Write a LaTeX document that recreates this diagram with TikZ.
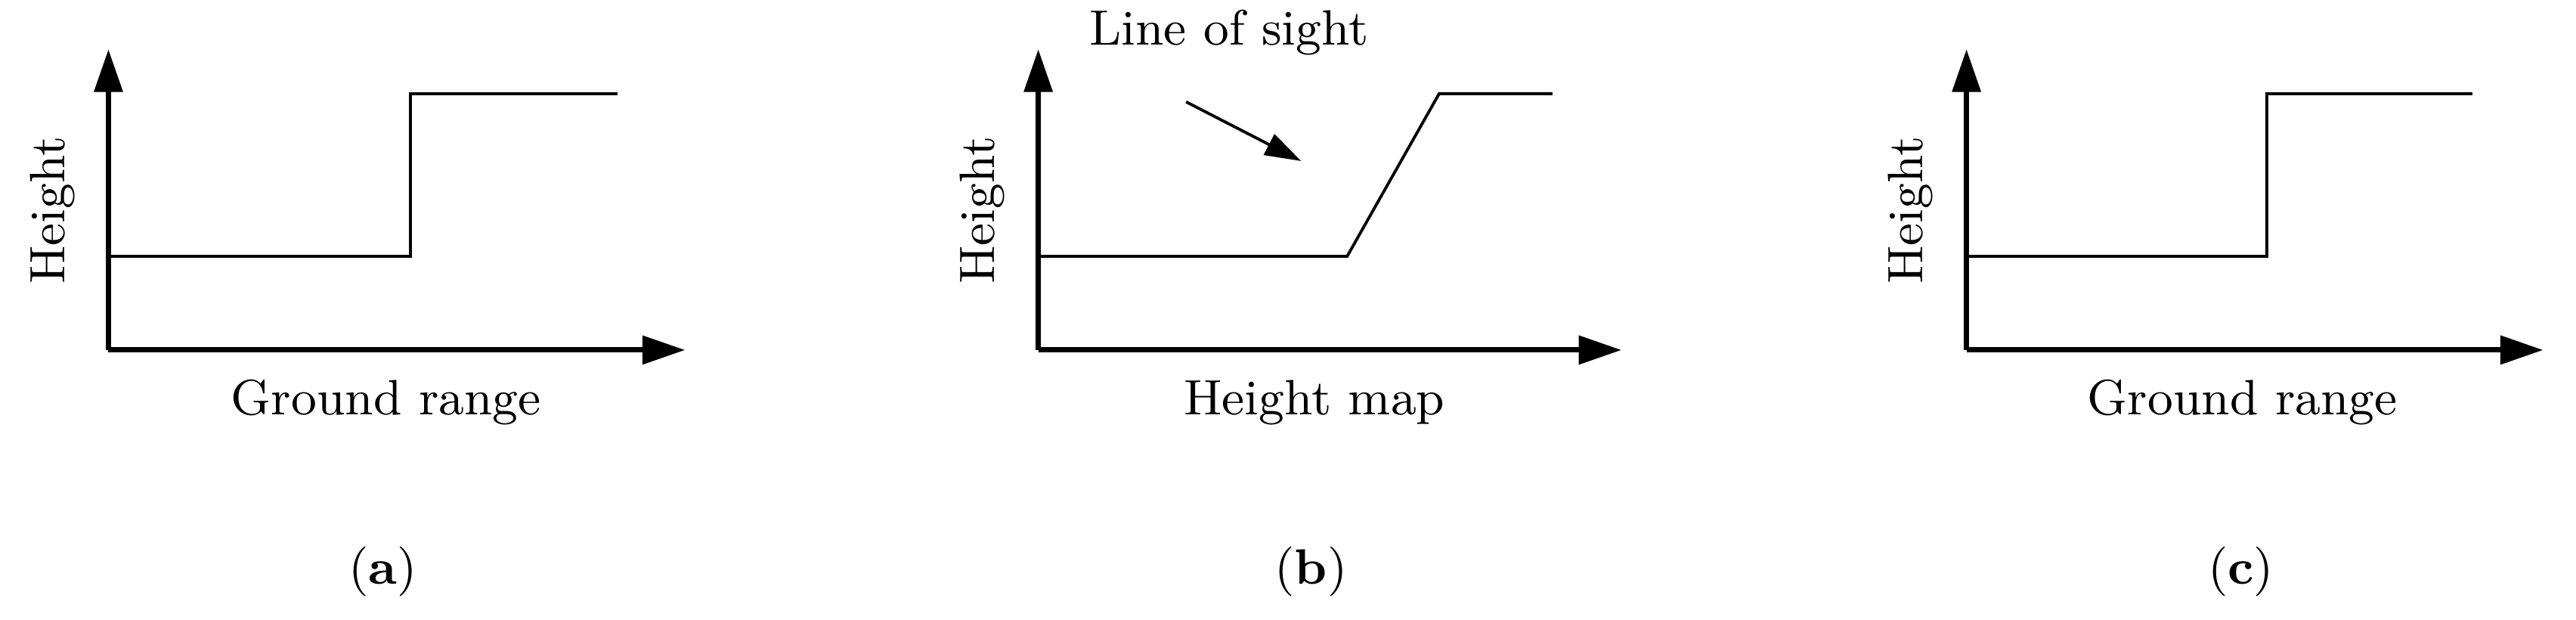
\documentclass[tikz,border=0pt]{standalone}
\usetikzlibrary{arrows.meta,positioning}
\begin{document}
\begin{tikzpicture}[
	x=0.01cm,
	y=-0.01cm,
	achse/.style={
		line width=0.9pt,
		-{Triangle[length=2.6mm,width=1.7mm]}
	},
	profil/.style={
		line width=0.5pt
	},
	pfeil/.style={
		line width=0.5pt,
		-{Triangle[length=2.2mm,width=1.4mm]}
	},
	beschriftung/.style={
		font=\fontsize{8.6}{10}\selectfont,
		inner sep=0pt
	}
]
\useasboundingbox (0,0) rectangle (1568,377);

% (a)
\coordinate (A0) at (66,213);
\coordinate (AY) at (66,30);
\coordinate (AX) at (417,213);
\draw[achse] (A0) -- (AY);
\draw[achse] (A0) -- (AX);
\draw[profil] (66,156) -- (250,156) -- (250,57) -- (376,57);
\node[beschriftung, rotate=90] (AH) at (32,128) {Height};
\node[beschriftung] (AG) at (235,245) {Ground range};
\node[beschriftung] (AL) at (233,348) {(\textbf{a})};

% (b)
\coordinate (B0) at (632,213);
\coordinate (BY) at (632,30);
\coordinate (BX) at (987,213);
\draw[achse] (B0) -- (BY);
\draw[achse] (B0) -- (BX);
\draw[profil] (632,156) -- (820,156) -- (876,57) -- (945,57);
\node[beschriftung, rotate=90] (BH) at (598,128) {Height};
\node[beschriftung] (BG) at (800,245) {Height map};
\node[beschriftung] (BL) at (798,348) {(\textbf{b})};
\node[beschriftung] (LOS) at (748,20) {Line of sight};
\coordinate (LOSA) at (722,62);
\coordinate (LOSE) at (792,98);
\draw[pfeil] (LOSA) -- (LOSE);

% (c)
\coordinate (C0) at (1197,213);
\coordinate (CY) at (1197,30);
\coordinate (CX) at (1548,213);
\draw[achse] (C0) -- (CY);
\draw[achse] (C0) -- (CX);
\draw[profil] (1197,156) -- (1380,156) -- (1380,57) -- (1505,57);
\node[beschriftung, rotate=90] (CH) at (1163,128) {Height};
\node[beschriftung] (CG) at (1365,245) {Ground range};
\node[beschriftung] (CL) at (1364,348) {(\textbf{c})};

\end{tikzpicture}
\end{document}
